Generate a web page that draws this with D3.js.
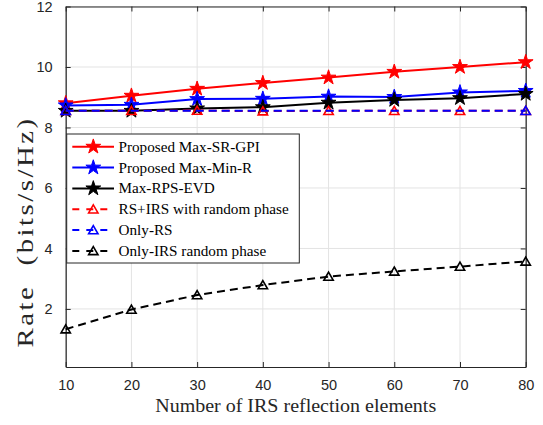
<!DOCTYPE html>
<html>
<head>
<meta charset="utf-8">
<script src="https://cdn.jsdelivr.net/npm/d3@7"></script>
<style>
  body { margin: 0; background: #fff; }
  svg { display: block; }
</style>
</head>
<body>
<svg width="543" height="425"></svg>
<script>
// data
var elements = [10, 20, 30, 40, 50, 60, 70, 80];
var maxSrGpi = [8.80, 9.05, 9.28, 9.47, 9.65, 9.84, 10.00, 10.16];
var maxMinR = [8.73, 8.75, 8.94, 8.95, 9.02, 9.01, 9.16, 9.21];
var maxRpsEvd = [8.55, 8.55, 8.63, 8.67, 8.82, 8.91, 8.97, 9.11];
var rsIrsRandom = [8.55, 8.55, 8.56, 8.54, 8.55, 8.55, 8.55, 8.55];
var onlyRsElements = [10, 80];
var onlyRs = [8.55, 8.55];
var onlyIrsRandom = [1.33, 1.98, 2.46, 2.79, 3.07, 3.24, 3.40, 3.57];

var xTicks = [10, 20, 30, 40, 50, 60, 70, 80];
var yTicks = [2, 4, 6, 8, 10, 12];

var series = [
    {name: "Proposed Max-SR-GPI", xs: elements, ys: maxSrGpi, color: "#ff0000", dash: null, marker: "star"},
    {name: "Proposed Max-Min-R", xs: elements, ys: maxMinR, color: "#0000ff", dash: null, marker: "star"},
    {name: "Max-RPS-EVD", xs: elements, ys: maxRpsEvd, color: "#000000", dash: null, marker: "star"},
    {name: "RS+IRS with random phase", xs: elements, ys: rsIrsRandom, color: "#ff0000", dash: "8,5", marker: "tri"},
    {name: "Only-RS", xs: onlyRsElements, ys: onlyRs, color: "#0000ff", dash: "8,5", marker: "tri"},
    {name: "Only-IRS random phase", xs: elements, ys: onlyIrsRandom, color: "#000000", dash: "8,5", marker: "tri"}
];

function draw() {
    var svg = d3.select("svg");
    var pLeft = 65.7, pRight = 525.7, pTop = 6.5, pBottom = 367;

    var scX = d3.scaleLinear().domain([10, 80]).range([pLeft, pRight]);
    var scY = d3.scaleLinear().domain([0.08, 12]).range([pBottom, pTop]);

    var axisColor = "#262626";
    var tickFont = "'Liberation Sans', Arial, sans-serif";
    var serif = "'Liberation Serif', 'Times New Roman', serif";

    // grid
    var grid = svg.append("g");
    grid.selectAll("line.gx")
        .data(xTicks)
        .enter()
        .append("line")
        .attr("x1", d => scX(d)).attr("x2", d => scX(d))
        .attr("y1", pTop).attr("y2", pBottom)
        .attr("stroke", "#e3e3e3").attr("stroke-width", 1);
    grid.selectAll("line.gy")
        .data(yTicks)
        .enter()
        .append("line")
        .attr("x1", pLeft).attr("x2", pRight)
        .attr("y1", d => scY(d)).attr("y2", d => scY(d))
        .attr("stroke", "#e3e3e3").attr("stroke-width", 1);

    // axes (ticks inward, box on)
    function styleAxis(g, showText) {
        g.select(".domain").attr("stroke", axisColor).attr("stroke-width", 1.2);
        g.selectAll(".tick line").attr("stroke", axisColor).attr("stroke-width", 1);
        g.selectAll("text")
            .attr("fill", axisColor)
            .style("font-family", tickFont)
            .style("font-size", "14.5px");
        if (!showText) g.selectAll("text").remove();
    }

    svg.append("g")
        .attr("transform", `translate(0,${pBottom})`)
        .call(d3.axisBottom(scX).tickValues(xTicks).tickSizeInner(-5).tickSizeOuter(0).tickPadding(13))
        .call(g => styleAxis(g, true));
    svg.append("g")
        .attr("transform", `translate(0,${pTop})`)
        .call(d3.axisTop(scX).tickValues(xTicks).tickSizeInner(-5).tickSizeOuter(0))
        .call(g => styleAxis(g, false));
    svg.append("g")
        .attr("transform", `translate(${pLeft},0)`)
        .call(d3.axisLeft(scY).tickValues(yTicks).tickSizeInner(-5).tickSizeOuter(0).tickPadding(13))
        .call(g => styleAxis(g, true));
    svg.append("g")
        .attr("transform", `translate(${pRight},0)`)
        .call(d3.axisRight(scY).tickValues(yTicks).tickSizeInner(-5).tickSizeOuter(0))
        .call(g => styleAxis(g, false));

    // series
    var starSym = d3.symbol().type(d3.symbolStar).size(68);
    var triSym = d3.symbol().type(d3.symbolTriangle).size(38);

    function drawMarker(sel, s) {
        if (s.marker == "star") {
            sel.attr("d", starSym).attr("fill", s.color).attr("stroke", s.color).attr("stroke-width", 1);
        } else {
            sel.attr("d", triSym).attr("fill", "none").attr("stroke", s.color).attr("stroke-width", 1.6);
        }
    }

    var lineMaker = d3.line().x(d => scX(d[0])).y(d => scY(d[1]));

    series.forEach(function(s) {
        var pts = s.xs.map((x, i) => [x, s.ys[i]]);
        var g = svg.append("g");
        g.append("path")
            .attr("fill", "none")
            .attr("stroke", s.color)
            .attr("stroke-width", 2)
            .attr("stroke-dasharray", s.dash)
            .attr("d", lineMaker(pts));
        g.selectAll("path.m")
            .data(pts)
            .enter()
            .append("path")
            .attr("class", "m")
            .attr("transform", d => `translate(${scX(d[0])},${scY(d[1]) + (s.marker == "tri" ? 1 : 0)})`)
            .call(sel => drawMarker(sel, s));
    });

    // legend
    var lg = svg.append("g");
    lg.append("rect")
        .attr("x", 66.7).attr("y", 134)
        .attr("width", 232.6).attr("height", 129)
        .attr("fill", "#fff").attr("stroke", axisColor).attr("stroke-width", 1);

    series.forEach(function(s, i) {
        var cy = 146.7 + i * 20.85;
        lg.append("line")
            .attr("x1", 72.3).attr("x2", 114)
            .attr("y1", cy).attr("y2", cy)
            .attr("stroke", s.color).attr("stroke-width", 2)
            .attr("stroke-dasharray", s.dash ? "7,7" : null);
        lg.append("path")
            .attr("transform", `translate(93.3,${cy + (s.marker == "tri" ? 1 : 0)})`)
            .call(sel => drawMarker(sel, s));
        lg.append("text")
            .attr("x", 118.5).attr("y", cy + 5)
            .attr("fill", "#000")
            .style("font-family", serif)
            .style("font-size", "15.2px")
            .text(s.name);
    });

    // axis labels
    svg.append("text")
        .attr("x", (pLeft + pRight) / 2).attr("y", 412)
        .attr("text-anchor", "middle")
        .attr("fill", axisColor)
        .attr("textLength", 281)
        .attr("lengthAdjust", "spacingAndGlyphs")
        .style("font-family", serif)
        .style("font-size", "19px")
        .text("Number of IRS reflection elements");

    svg.append("text")
        .attr("transform", "translate(33,232) rotate(-90)")
        .attr("text-anchor", "middle")
        .attr("fill", axisColor)
        .attr("textLength", 231)
        .attr("lengthAdjust", "spacingAndGlyphs")
        .style("font-family", serif)
        .style("font-size", "23px")
        .style("letter-spacing", "2px")
        .style("white-space", "pre")
        .text("Rate  (bits/s/Hz)");
}

draw();
</script>
</body>
</html>
